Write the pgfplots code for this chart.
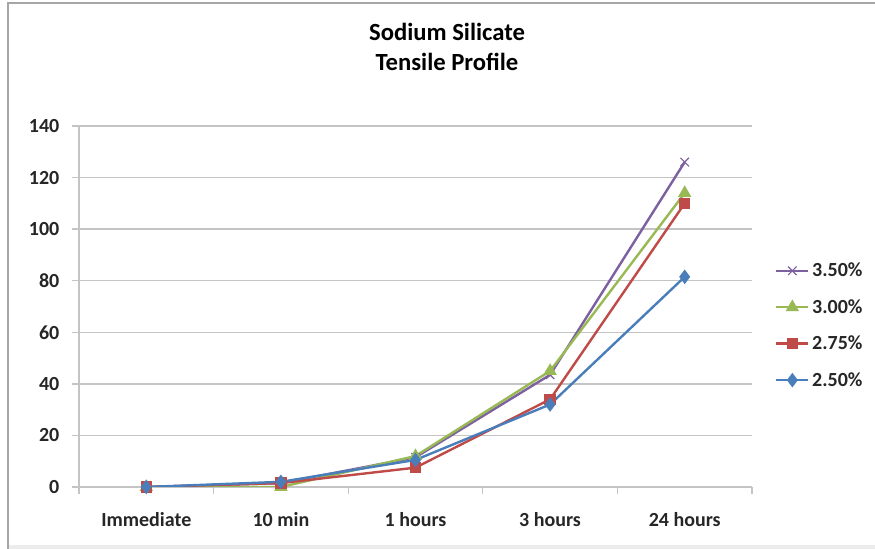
\documentclass[border=0pt]{standalone}
\usepackage{pgfplots}
\pgfplotsset{compat=1.18}
\usepackage{fontspec}
\setmainfont{Carlito}
\definecolor{sblue}{HTML}{4A7EBB}
\definecolor{sred}{HTML}{BE4B48}
\definecolor{sgreen}{HTML}{98B954}
\definecolor{spurple}{HTML}{7D60A0}
\definecolor{gridgray}{HTML}{C4C4C4}
\definecolor{framegray}{HTML}{A6A6A6}

\begin{document}
\begin{tikzpicture}
% canvas: 875 x 549 units of 0.75pt
\useasboundingbox (0pt,0pt) rectangle (656.25pt,411.75pt);
% outer chart frame
\draw[framegray, line width=2.2pt] (6pt,0pt) -- (6pt,409.5pt) -- (656.25pt,409.5pt);
\fill[gray!15] (7pt,0pt) rectangle (656.25pt,3pt);
% title
\node[align=center, font=\fontsize{18.5}{22.5}\selectfont\bfseries] at (335.25pt,376.5pt) {Sodium Silicate\\Tensile Profile};

\begin{axis}[
  at={(59.25pt,46.5pt)}, anchor=south west,
  scale only axis,
  width=504.75pt, height=270.75pt,
  xmin=-0.5, xmax=4.5, ymin=0, ymax=140,
  ytick={0,20,...,140},
  xtick={0,...,4},
  xticklabels={Immediate,10 min,1 hours,3 hours,24 hours},
  minor xtick={-0.5,0.5,...,4.5},
  axis x line*=bottom, axis y line*=left,
  axis line style={gridgray, line width=1pt, -},
  ymajorgrids,
  grid style={gridgray, line width=1pt},
  tick align=outside,
  major tick length=5.25pt, minor tick length=5.25pt,
  major x tick style={draw=none},
  tick style={gridgray, line width=1pt},
  every tick label/.append style={font=\fontsize{15}{18}\selectfont\bfseries, text=black!85},
  xticklabel style={yshift=-10.5pt},
  yticklabel style={xshift=-6pt},
  /pgf/number format/assume math mode=true,
  legend style={at={(1.034,0.629)}, anchor=north west, draw=none, fill=none,
    font=\fontsize{15}{18}\selectfont\bfseries, text=black!85, row sep=11.5pt,
    inner sep=0pt},
  legend cell align=left,
  legend image code/.code={\draw[mark repeat=2,mark phase=2] plot coordinates {(0pt,0pt) (12pt,0pt) (24pt,0pt)};},
  every axis plot/.append style={line width=1.8pt},
]
\addplot[spurple, mark=x, mark size=4.5pt, mark options={line width=0.9pt}]
  coordinates {(0,0) (1,1.5) (2,11.5) (3,43.5) (4,126)};
\addlegendentry{3.50\%}
\addplot[sgreen, mark=triangle*, mark size=4pt]
  coordinates {(0,0) (1,0) (2,12) (3,45) (4,114)};
\addlegendentry{3.00\%}
\addplot[sred, mark=square*, mark size=3.4pt]
  coordinates {(0,0) (1,1.5) (2,7.5) (3,34) (4,110)};
\addlegendentry{2.75\%}
\addplot[sblue, mark=diamond*, mark size=4pt]
  coordinates {(0,0) (1,2) (2,10.5) (3,32) (4,81.5)};
\addlegendentry{2.50\%}
\end{axis}
\end{tikzpicture}
\end{document}
